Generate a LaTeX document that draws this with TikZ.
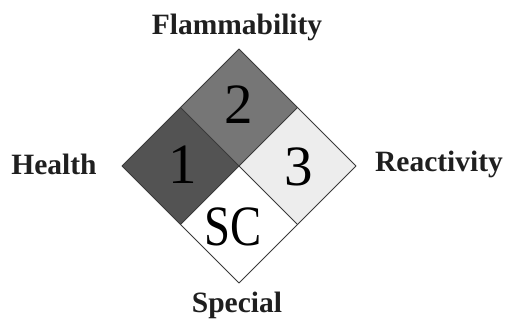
\documentclass[tikz,border=0pt]{standalone}
\usepackage{fontspec}
\setmainfont{Liberation Serif}
\usetikzlibrary{calc}
\definecolor{dgray}{HTML}{535353}
\definecolor{mgray}{HTML}{767676}
\definecolor{lgray}{HTML}{EDEDED}
\definecolor{edge}{HTML}{3A3A3A}
\tikzset{
  lbl/.style={font=\fontsize{29.5}{31}\selectfont\bfseries, text=black!88, inner sep=0pt},
  num/.style={font=\fontsize{57}{59}\selectfont, text=black, inner sep=0pt},
  cell/.style={draw=edge, line width=0.8pt, line join=round}
}
\begin{document}
\begin{tikzpicture}[x=1pt,y=-1pt]
\useasboundingbox (0,0) rectangle (508,331);
\coordinate (C) at (239,166);
\coordinate (T) at (239,49);
\coordinate (B) at (239,283);
\coordinate (L) at (122,166);
\coordinate (R) at (356,166);
\coordinate (TL) at ($(T)!0.5!(L)$);
\coordinate (TR) at ($(T)!0.5!(R)$);
\coordinate (BL) at ($(B)!0.5!(L)$);
\coordinate (BR) at ($(B)!0.5!(R)$);
\fill[dgray] (L) -- (TL) -- (C) -- (BL) -- cycle;
\fill[mgray] (T) -- (TR) -- (C) -- (TL) -- cycle;
\fill[lgray] (R) -- (BR) -- (C) -- (TR) -- cycle;
\fill[white] (B) -- (BL) -- (C) -- (BR) -- cycle;
\draw[cell] (T) -- (R) -- (B) -- (L) -- cycle;
\draw[cell] (TL) -- (BR);
\draw[cell] (TR) -- (BL);
\node[num] (n1) at (183,165) {1};
\node[num] (n2) at (239,105) {2};
\node[num] (n3) at (299,167) {3};
\node[num, xscale=0.82] (nsc) at (233,227) {SC};
\node[lbl] (fl) at (237,27) {Flammability};
\node[lbl] (he) at (54,164) {Health};
\node[lbl] (re) at (439,164) {Reactivity};
\node[lbl] (sp) at (237,305) {Special};
\end{tikzpicture}
\end{document}
